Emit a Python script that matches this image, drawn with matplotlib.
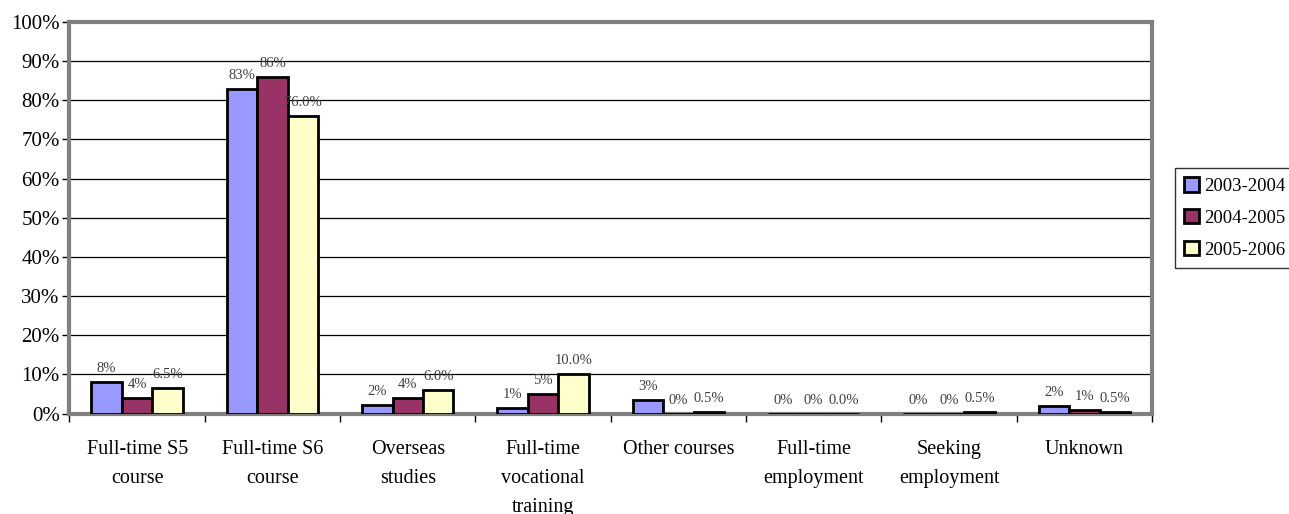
import numpy as np
import matplotlib.pyplot as plt

plt.rcParams['font.family'] = ['Liberation Serif', 'DejaVu Serif']

categories = ['Full-time S5\ncourse', 'Full-time S6\ncourse', 'Overseas\nstudies',
              'Full-time\nvocational\ntraining', 'Other courses', 'Full-time\nemployment',
              'Seeking\nemployment', 'Unknown']
years = ['2003-2004', '2004-2005', '2005-2006']
v0304 = [8.0, 83.0, 2.3, 1.4, 3.4, 0.0, 0.0, 2.0]
v0405 = [4.0, 86.0, 4.0, 5.0, 0.0, 0.0, 0.0, 1.0]
v0506 = [6.5, 76.0, 6.0, 10.0, 0.5, 0.0, 0.5, 0.5]
colors = ['#9999FF', '#993366', '#FFFFCC']
fmts = ['{:.0f}%', '{:.0f}%', '{:.1f}%']

fig = plt.figure(figsize=(12.89, 5.14), dpi=100)
ax = fig.add_axes([0.0539, 0.1955, 0.8398, 0.7617])

x = np.arange(len(categories))
w = 0.225
for i, (vals, c, f) in enumerate(zip([v0304, v0405, v0506], colors, fmts)):
    bars = ax.bar(x + (i - 1) * w, vals, w, color=c, edgecolor='black',
                  linewidth=2, label=years[i], zorder=3)
    for b, v in zip(bars, vals):
        ax.annotate(f.format(v), (b.get_x() + b.get_width() / 2, b.get_height()),
                    xytext=(0, 5), textcoords='offset points', ha='center',
                    va='bottom', fontsize=10.5, color='#404040')

ax.set_xlim(-0.5, len(categories) - 0.5)
ax.set_ylim(0, 100)
ax.set_yticks(range(0, 101, 10))
ax.set_yticklabels([f'{t}%' for t in range(0, 101, 10)], fontsize=15)
ax.yaxis.grid(True, color='black', linewidth=0.9, zorder=0)
ax.set_axisbelow(True)

ax.set_xticks(x)
ax.set_xticklabels(categories, fontsize=14.5, va='top', linespacing=1.7)
ax.tick_params(axis='x', length=0, pad=19)
ax.set_xticks(np.arange(-0.5, len(categories)), minor=True)
ax.tick_params(axis='x', which='minor', length=6, width=1, direction='out')
ax.tick_params(axis='y', length=5, width=1, direction='out', pad=2)

for s in ax.spines.values():
    s.set_color('#808080')
    s.set_linewidth(3)

leg = fig.legend(loc='center left', bbox_to_anchor=(0.9115, 0.576), fontsize=13.5,
                 frameon=True, fancybox=False, edgecolor='black',
                 handlelength=0.8, handleheight=0.8, handletextpad=0.25,
                 labelspacing=0.75, borderpad=0.5, borderaxespad=0)
leg.get_frame().set_linewidth(1)

fig.savefig('out.png', dpi=100)
